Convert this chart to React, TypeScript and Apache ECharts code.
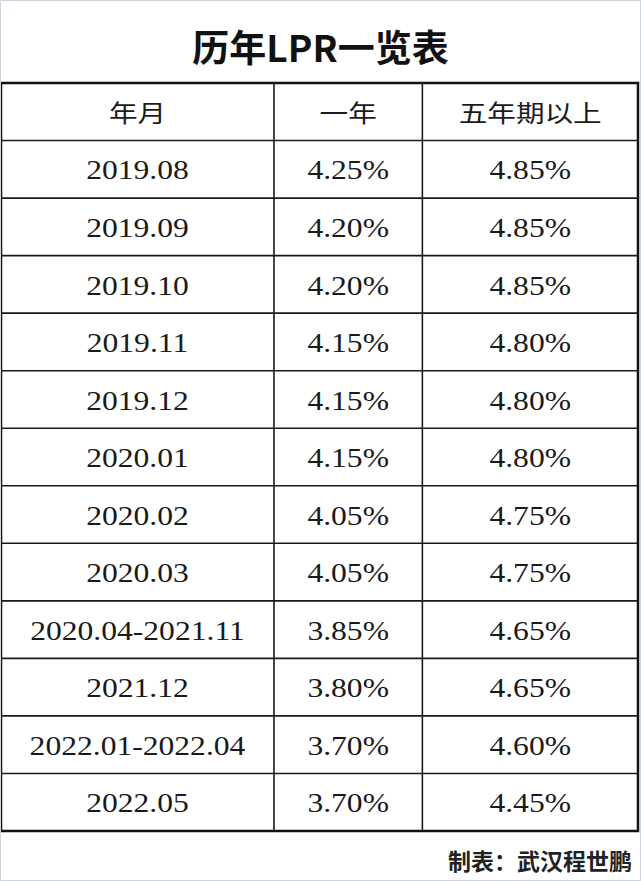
import React, { useEffect, useRef } from "react";
import * as echarts from "echarts";

const TITLE = "历年LPR一览表";
const FOOTER = "制表：武汉程世鹏";
const HEADERS = ["年月", "一年", "五年期以上"];
const PERIODS = [
  "2019.08", "2019.09", "2019.10", "2019.11", "2019.12", "2020.01",
  "2020.02", "2020.03", "2020.04-2021.11", "2021.12", "2022.01-2022.04", "2022.05",
];
const ONE_YEAR = ["4.25%", "4.20%", "4.20%", "4.15%", "4.15%", "4.15%", "4.05%", "4.05%", "3.85%", "3.80%", "3.70%", "3.70%"];
const FIVE_YEAR = ["4.85%", "4.85%", "4.85%", "4.80%", "4.80%", "4.80%", "4.75%", "4.75%", "4.65%", "4.65%", "4.60%", "4.45%"];

// layout: column edges as fractions of table width
const COL_EDGES = [0, 0.4285, 0.6615, 1];

export default function App() {
  const ref = useRef<HTMLDivElement>(null);
  useEffect(() => {
    document.body.style.margin = "0";
    const chart = echarts.init(ref.current!, null, { renderer: "svg" });
    const rowKeys = ["header", ...PERIODS];
    const table: string[][] = [HEADERS, ...PERIODS.map((p, i) => [p, ONE_YEAR[i], FIVE_YEAR[i]])];
    const data: number[][] = [];
    table.forEach((row, ri) => row.forEach((_, ci) => data.push([ci, ri])));
    const nRows = table.length;

    chart.setOption({
      animation: false,
      backgroundColor: "#ffffff",
      title: [
        {
          text: TITLE,
          left: "center",
          top: 22,
          textStyle: { fontFamily: "Noto Sans CJK SC", fontWeight: "bold", fontSize: 37, color: "#111" },
        },
        {
          text: FOOTER,
          right: 4,
          top: 843,
          textStyle: { fontFamily: "Noto Sans CJK SC", fontWeight: "bold", fontSize: 23, color: "#222" },
        },
      ],
      graphic: [
        {
          type: "rect",
          shape: { x: 0.5, y: 0.5, width: 640, height: 880 },
          style: { fill: "none", stroke: "#cdd6e0", lineWidth: 1 },
          z: 100,
        },
      ],
      grid: {
        left: 1,
        right: 3,
        top: 83,
        bottom: 50,
        show: true,
        borderColor: "#111",
        borderWidth: 2.5,
        backgroundColor: "#fff",
      },
      xAxis: { type: "value", min: 0, max: 1, show: false },
      yAxis: { type: "category", data: rowKeys, inverse: true, show: false },
      series: [
        {
          type: "custom",
          data,
          z: 1,
          renderItem: (params: any, api: any) => {
            const ci = api.value(0);
            const ri = api.value(1);
            const center = api.coord([0, ri]);
            const h = api.size([0, 1])[1];
            const x0 = api.coord([COL_EDGES[ci], ri])[0];
            const x1 = api.coord([COL_EDGES[ci + 1], ri])[0];
            const yTop = center[1] - h / 2;
            const yBot = center[1] + h / 2;
            const children: any[] = [];
            if (ci < 2) {
              children.push({
                type: "line",
                shape: { x1: x1, y1: yTop, x2: x1, y2: yBot },
                style: { stroke: "#1a1a1a", lineWidth: 1.6 },
              });
            }
            if (ri < nRows - 1) {
              children.push({
                type: "line",
                shape: { x1: x0, y1: yBot, x2: x1, y2: yBot },
                style: { stroke: "#1a1a1a", lineWidth: 1.6 },
              });
            }
            const isHeader = ri === 0;
            children.push({
              type: "text",
              x: (x0 + x1) / 2,
              y: center[1] + (isHeader ? 0 : 1),
              scaleY: isHeader ? 0.9 : 1.0,
              scaleX: isHeader ? 1.1 : 1.17,
              style: {
                text: table[ri][ci],
                x: 0,
                y: 0,
                align: "center",
                verticalAlign: "middle",
                fontFamily: isHeader ? "Noto Sans CJK SC" : "'Liberation Serif', serif",
                fontSize: isHeader ? 26 : 27,
                fill: "#1a1a1a",
              },
            });
            return { type: "group", children };
          },
        },
      ],
    });
    return () => chart.dispose();
  }, []);
  return <div ref={ref} style={{ width: 641, height: 881 }} />;
}
